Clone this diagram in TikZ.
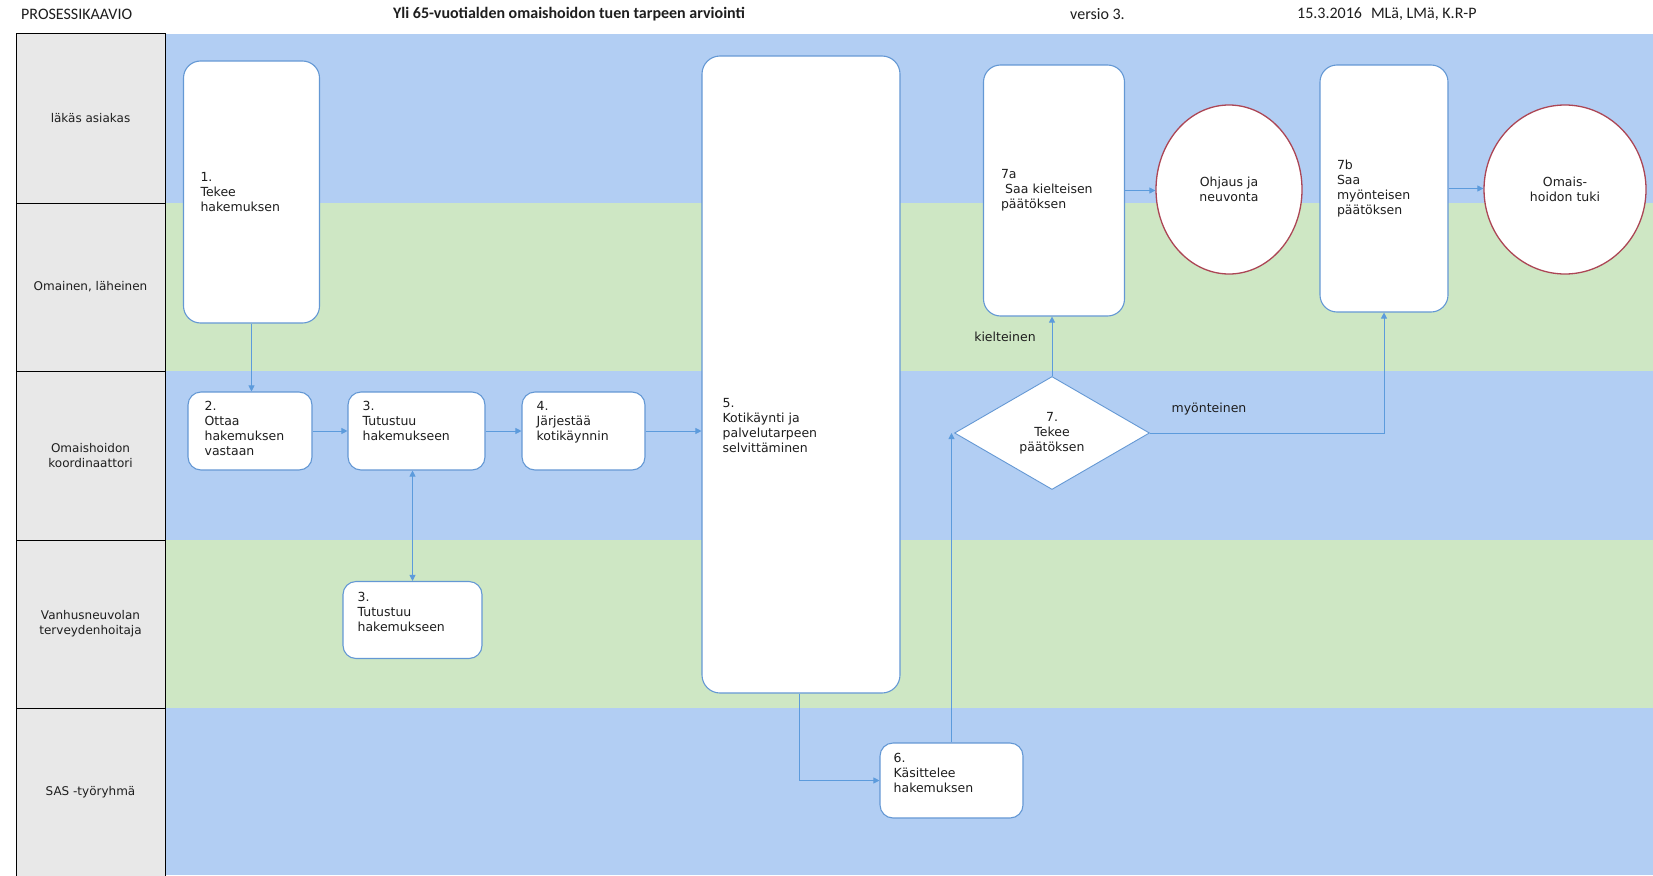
\documentclass[tikz,border=0pt]{standalone}
\usepackage{fontspec}
\setmainfont{DejaVu Sans}
\newfontfamily\headfont{Carlito}
\usetikzlibrary{shapes.geometric,arrows.meta,calc}

\definecolor{laneblue}{RGB}{178,206,243}
\definecolor{lanegreen}{RGB}{206,231,196}
\definecolor{labelgray}{RGB}{232,232,232}
\definecolor{boxedge}{RGB}{100,152,212}
\definecolor{flow}{RGB}{92,155,220}
\definecolor{termedge}{RGB}{172,70,85}
\definecolor{inktext}{RGB}{30,30,30}

\begin{document}
\begin{tikzpicture}[x=1pt,y=-1pt,
  txt/.style={font=\fontsize{12.5}{15}\selectfont, align=left, inner sep=0pt, text=inktext},
  lanelabel/.style={draw=black, line width=1pt, fill=labelgray, minimum width=149pt,
    font=\fontsize{12}{15}\selectfont, align=center, text=inktext},
  stepbox/.style={draw=boxedge, line width=1.1pt, fill=white, rounded corners=13pt, inner sep=0pt},
  tallbox/.style={stepbox, rounded corners=17pt, align=left, inner xsep=17pt,
    font=\fontsize{12.5}{15}\selectfont, text=inktext},
  terminal/.style={ellipse, draw=termedge, line width=1.3pt, fill=white, inner sep=0pt,
    align=center, font=\fontsize{12.5}{15}\selectfont, text=inktext},
  decision/.style={diamond, draw=boxedge, line width=0.9pt, fill=white, inner sep=0pt,
    align=center, font=\fontsize{12.5}{15}\selectfont, text=inktext},
  flowline/.style={draw=flow, line width=0.9pt, -{Triangle[length=6pt,width=6pt]}},
  head/.style={font=\headfont\fontsize{16}{19}\selectfont, inner sep=0pt, text=inktext}
]
\useasboundingbox (0,0) rectangle (1653,875);
\fill[white] (0,0) rectangle (1653,875);

% swimlane bands
\fill[laneblue]  (165,34)  rectangle (1653,203);
\fill[lanegreen] (165,203) rectangle (1653,371);
\fill[laneblue]  (165,371) rectangle (1653,540);
\fill[lanegreen] (165,540) rectangle (1653,708);
\fill[laneblue]  (165,708) rectangle (1653,875);

% lane titles
\node[lanelabel, minimum height=169pt] (lane1) at (90.5,118.5) {läkäs asiakas};
\node[lanelabel, minimum height=168pt] (lane2) at (90.5,287) {Omainen, läheinen};
\node[lanelabel, minimum height=169pt] (lane3) at (90.5,455.5) {Omaishoidon\\koordinaattori};
\node[lanelabel, minimum height=168pt] (lane4) at (90.5,624) {Vanhusneuvolan\\terveydenhoitaja};
\node[lanelabel, minimum height=174pt] (lane5) at (90.5,795) {};
\node[txt, font=\fontsize{12}{15}\selectfont, align=center] (lane5t) at (90.5,792) {SAS -työryhmä};

% header
\node[head, anchor=west] (hdr1) at (21,14) {PROSESSIKAAVIO};
\node[head, font=\headfont\bfseries\fontsize{16}{19}\selectfont] (hdr2) at (569,14) {Yli 65-vuotialden omaishoidon tuen tarpeen arviointi};
\node[head, anchor=west] (hdr3) at (1070,14) {versio 3.};
\node[head, anchor=west] (hdr4) at (1297,14) {15.3.2016\hspace{9pt}MLä, LMä, K.R-P};

% process steps
\node[tallbox, minimum width=135pt, minimum height=262pt, text width=102pt] (n1) at (251.5,192) {1.\\Tekee\\hakemuksen};
\node[stepbox, minimum width=124pt, minimum height=78pt] (n2) at (250,431) {};
\node[stepbox, minimum width=137pt, minimum height=78pt] (n3) at (416.5,431) {};
\node[stepbox, minimum width=123pt, minimum height=78pt] (n4) at (583.5,431) {};
\node[stepbox, rounded corners=18pt, minimum width=198pt, minimum height=637pt] (n5) at (801,374.5) {};
\node[stepbox, minimum width=139pt, minimum height=77pt] (n3b) at (412.5,620) {};
\node[stepbox, minimum width=143pt, minimum height=75pt] (n6) at (951.5,780.5) {};
\node[tallbox, minimum width=141pt, minimum height=251pt, text width=106pt] (n7a) at (1054,190.5) {7a\\\ Saa kielteisen\\päätöksen};
\node[tallbox, minimum width=128pt, minimum height=247pt, text width=94pt] (n7b) at (1384,188.5) {7b\\Saa\\myönteisen\\päätöksen};
\node[terminal, minimum width=146pt, minimum height=169pt] (e1) at (1229,189.5) {Ohjaus ja\\neuvonta};
\node[terminal, minimum width=162pt, minimum height=169pt] (e2) at (1565,189.5) {Omais-\\hoidon tuki};
\node[decision, minimum width=195pt, minimum height=113pt] (dec) at (1052,433) {7.\\Tekee\\päätöksen};

% step texts
\node[txt, anchor=north west] (t2) at ($(n2.north west)+(17,9.5)$) {2.\\Ottaa\\hakemuksen\\vastaan};
\node[txt, anchor=north west] (t3) at ($(n3.north west)+(15,9.5)$) {3.\\Tutustuu\\hakemukseen};
\node[txt, anchor=north west] (t4) at ($(n4.north west)+(15,10)$) {4.\\Järjestää\\kotikäynnin};
\node[txt, anchor=north west] (t5) at ($(n5.north west)+(21,343)$) {5.\\Kotikäynti ja\\palvelutarpeen\\selvittäminen};
\node[txt, anchor=north west] (t3b) at ($(n3b.north west)+(15,11)$) {3.\\Tutustuu\\hakemukseen};
\node[txt, anchor=north west] (t6) at ($(n6.north west)+(14,10.5)$) {6.\\Käsittelee\\hakemuksen};

% branch labels
\node[txt] (lblno) at (1005,337) {kielteinen};
\node[txt] (lblyes) at (1209,409) {myönteinen};

% connectors
\draw[flowline] (n1.south) -- (n1.south |- n2.north);
\draw[flowline] (n2.east) -- (n3.west);
\draw[flowline] (n3.east) -- (n4.west);
\draw[flowline] (n4.east) -- (n4.east -| n5.west);
\draw[flowline, {Triangle[length=6pt,width=6pt]}-{Triangle[length=6pt,width=6pt]}] (n3b.north) -- (n3b.north |- n3.south);
\draw[flowline] ($(n5.south)+(-2,0)$) |- (n6.west);
\draw[flowline] (n6.north) -- (n6.north |- dec.west);
\draw[flowline] (dec.north) -- (dec.north |- n7a.south);
\draw[flowline] (dec.east) -| (n7b.south);
\draw[flowline] (n7a.east) -- (n7a.east -| e1.west);
\draw[flowline] (n7b.east) -- (n7b.east -| e2.west);
\end{tikzpicture}
\end{document}
